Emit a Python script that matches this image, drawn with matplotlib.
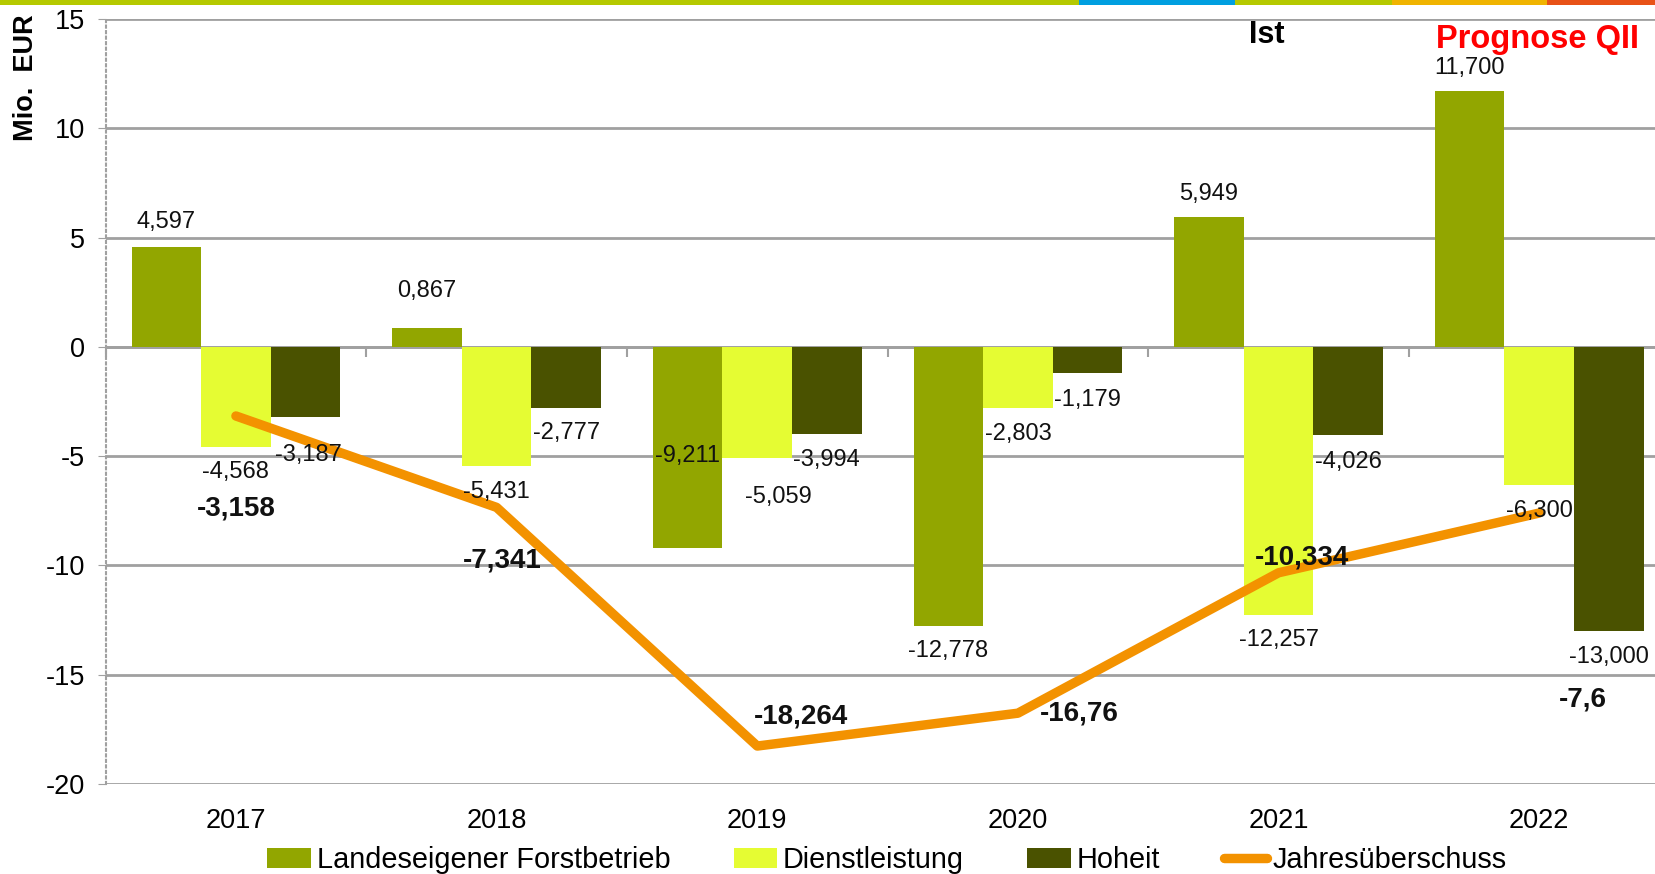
import matplotlib
matplotlib.use("Agg")
import matplotlib.pyplot as plt
from matplotlib.patches import Rectangle
import numpy as np

plt.rcParams['font.family'] = ['Liberation Sans', 'DejaVu Sans']
plt.rcParams['axes.unicode_minus'] = False

years = ["2017", "2018", "2019", "2020", "2021", "2022"]
forstbetrieb = [4.597, 0.867, -9.211, -12.778, 5.949, 11.700]
dienstleistung = [-4.568, -5.431, -5.059, -2.803, -12.257, -6.300]
hoheit = [-3.187, -2.777, -3.994, -1.179, -4.026, -13.000]
jahresueberschuss = [-3.158, -7.341, -18.264, -16.76, -10.334, -7.6]
jahres_labels = ["-3,158", "-7,341", "-18,264", "-16,76", "-10,334", "-7,6"]

c_forst = "#92a600"
c_dienst = "#e5fc33"
c_hoheit = "#4a5200"
c_line = "#f39200"
c_grid = "#a0a0a0"


def fmt(v):
    return f"{v:.3f}".replace(".", ",")


fig = plt.figure(figsize=(16.55, 8.74), dpi=100)
ax = fig.add_axes([0.0638, 0.103, 0.945, 0.875])

x = np.arange(len(years))
w = 0.267

b1 = ax.bar(x - w, forstbetrieb, w, color=c_forst, label="Landeseigener Forstbetrieb", zorder=2)
b2 = ax.bar(x, dienstleistung, w, color=c_dienst, label="Dienstleistung", zorder=2)
b3 = ax.bar(x + w, hoheit, w, color=c_hoheit, label="Hoheit", zorder=2)
ln, = ax.plot(x, jahresueberschuss, color=c_line, lw=6.8, solid_capstyle="round",
              solid_joinstyle="round", label="Jahresüberschuss", zorder=3)

# bar value labels (offsets in data units, tweaked where the original moved them)
off_forst = [(0, 1.1), (0, 1.7), (0, 4.2), (0, -1.15), (0, 1.05), (0, 1.05)]
off_dienst = [(0, -1.15), (0, -1.2), (0.08, -1.8), (0, -1.2), (0, -1.15), (0, -1.2)]
off_hoheit = [(0.01, -1.75), (0, -1.15), (0, -1.2), (0, -1.25), (0, -1.25), (0, -1.2)]
for series, offs, dx in [(forstbetrieb, off_forst, -w), (dienstleistung, off_dienst, 0),
                         (hoheit, off_hoheit, w)]:
    for i, v in enumerate(series):
        ax.text(x[i] + dx + offs[i][0], v + offs[i][1], fmt(v), ha="center", va="center",
                fontsize=17, color="#111111", zorder=4)

off_line = [(0, -4.25), (0.02, -2.41), (0.166, 1.35), (0.235, 0.0), (0.09, 0.72), (0.166, -8.54)]
for i, v in enumerate(jahresueberschuss):
    ax.text(x[i] + off_line[i][0], v + off_line[i][1], jahres_labels[i], ha="center",
            va="center", fontsize=20, fontweight="bold", color="#111111", zorder=4)

ax.set_xlim(-0.5, len(years) - 0.5)
ax.set_ylim(-20, 15)
ax.set_yticks(range(-20, 16, 5))
ax.set_yticklabels([str(t) for t in range(-20, 16, 5)])
ax.set_xticks(x)
ax.set_xticklabels(years)
ax.tick_params(axis="x", length=0, pad=17, labelsize=19.5)
ax.tick_params(axis="y", length=6, color=c_grid, pad=9, labelsize=19.5)
ax.yaxis.grid(True, color=c_grid, lw=2, zorder=0)
for s in ["top", "right", "bottom"]:
    ax.spines[s].set_visible(False)
ax.spines["left"].set_color(c_grid)
ax.spines["left"].set_linestyle(":")
ax.spines["left"].set_linewidth(1.5)

# zero line with category ticks
zero = ax.secondary_xaxis(0, transform=ax.transData)
zero.set_xticks(np.arange(-0.5, len(years), 1.0))
zero.set_xticklabels([])
zero.tick_params(axis="x", length=7, width=1.5, color=c_grid)
zero.spines["bottom"].set_color(c_grid)
zero.spines["bottom"].set_linewidth(2)

fig.text(0.016, 0.911, "Mio.  EUR", rotation=90, ha="center", va="center",
         fontsize=19.5, fontweight="bold")
fig.text(0.7656, 0.96, "Ist", ha="center", va="center", fontsize=22, fontweight="bold")
fig.text(0.929, 0.955, "Prognose QII", ha="center", va="center", fontsize=23.5,
         fontweight="bold", color="#ff0000")

# coloured strip at the top
strip = [(0.0, 0.652, "#b5c900"), (0.652, 0.746, "#009fe0"), (0.746, 0.841, "#b5c900"),
         (0.841, 0.935, "#f0b400"), (0.935, 1.0, "#e85217")]
for x0, x1, c in strip:
    fig.add_artist(Rectangle((x0, 0.9945), x1 - x0, 0.0055, transform=fig.transFigure,
                             color=c, lw=0))

fig.legend(handles=[b1, b2, b3, ln], loc="center", bbox_to_anchor=(0.536, 0.016), ncol=4,
           frameon=False, fontsize=20.8, handlelength=1.5, handletextpad=0.2,
           columnspacing=2.2, borderaxespad=0)

fig.savefig("out.png", dpi=100)
